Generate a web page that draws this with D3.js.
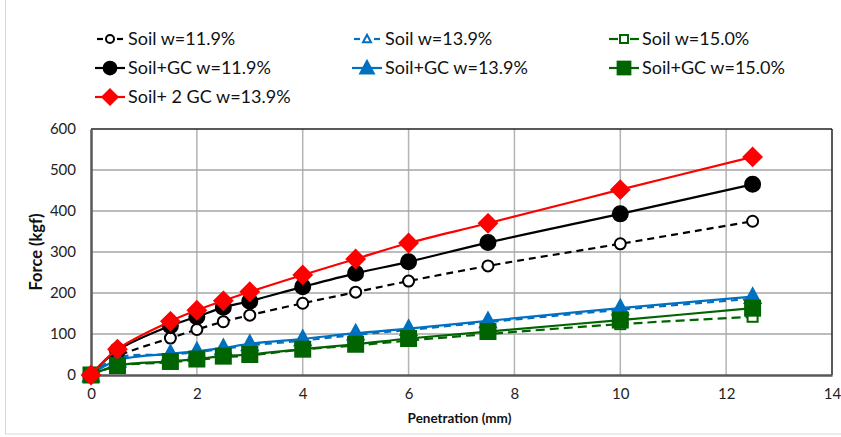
<!DOCTYPE html>
<html>
<head>
<meta charset="utf-8">
<script src="https://cdn.jsdelivr.net/npm/d3@7"></script>
<style>
  body { margin: 0; background: #fff; }
  text { font-family: Lato, "Open Sans", sans-serif; }
</style>
</head>
<body>
<div id="chart"></div>
<script>
// Penetration (mm) readings
const penetration = [0, 0.5, 1.5, 2, 2.5, 3, 4, 5, 6, 7.5, 10, 12.5];

// Force (kgf) per series
const soil119 = [0, 45, 90, 111, 130, 146, 175, 202, 229, 266, 320, 375];
const soil139 = [0, 42, 50, 56, 64, 72, 84, 98, 110, 129, 159, 186];
const soil150 = [0, 22, 31, 37, 43, 48, 62, 72, 84, 100, 124, 142];
const gc119 = [0, 60, 120, 142, 165, 180, 215, 248, 276, 323, 393, 465];
const gc139 = [0, 36, 52, 58, 66, 76, 88, 102, 113, 132, 163, 191];
const gc150 = [0, 23, 33, 39, 46, 50, 63, 75, 89, 106, 134, 163];
const gc2139 = [0, 63, 131, 158, 181, 203, 244, 283, 322, 370, 452, 532];

const seriesNames = ["Soil w=11.9%", "Soil w=13.9%", "Soil w=15.0%",
  "Soil+GC w=11.9%", "Soil+GC w=13.9%", "Soil+GC w=15.0%", "Soil+ 2 GC w=13.9%"];

const xTicks = [0, 2, 4, 6, 8, 10, 12, 14];
const yTicks = [0, 100, 200, 300, 400, 500, 600];

const series = [
  { name: seriesNames[0], values: soil119, color: "#000000", dash: "7,5", marker: "circle", fill: "#fff", size: 5.5 },
  { name: seriesNames[1], values: soil139, color: "#0070c0", dash: "7,5", marker: "triangle", fill: "#fff", size: 5 },
  { name: seriesNames[2], values: soil150, color: "#006400", dash: "9,5", marker: "square", fill: "#fff", size: 5 },
  { name: seriesNames[3], values: gc119, color: "#000000", dash: null, marker: "circle", fill: "#000000", size: 7.5 },
  { name: seriesNames[4], values: gc139, color: "#0070c0", dash: null, marker: "triangle", fill: "#0070c0", size: 8 },
  { name: seriesNames[5], values: gc150, color: "#006400", dash: null, marker: "square", fill: "#006400", size: 7.5 },
  { name: seriesNames[6], values: gc2139, color: "#ff0000", dash: null, marker: "diamond", fill: "#ff0000", size: 9 }
];

const W = 841, H = 437;
const margin = { top: 129, right: 9, bottom: 62, left: 91 };
const width = W - margin.left - margin.right;
const height = H - margin.top - margin.bottom;

const svg = d3.select("#chart").append("svg")
  .attr("width", W)
  .attr("height", H);

// outer chart frame
svg.append("rect")
  .attr("x", 5.5).attr("y", -1)
  .attr("width", W).attr("height", H - 2)
  .attr("fill", "none").attr("stroke", "#d9d9d9");

const g = svg.append("g")
  .attr("transform", `translate(${margin.left},${margin.top})`);

const x = d3.scaleLinear().domain([0, 14]).range([0, width]);
const y = d3.scaleLinear().domain([0, 600]).range([height, 0]);

// gridlines
g.append("g")
  .selectAll("line.gx")
  .data(xTicks.slice(1, -1))
  .enter().append("line")
  .attr("x1", d => x(d)).attr("x2", d => x(d))
  .attr("y1", 0).attr("y2", height)
  .attr("stroke", "#b3b3b3").attr("stroke-width", 1.5);

g.append("g")
  .selectAll("line.gy")
  .data(yTicks.slice(1, -1))
  .enter().append("line")
  .attr("x1", 0).attr("x2", width)
  .attr("y1", d => y(d)).attr("y2", d => y(d))
  .attr("stroke", "#a6a6a6").attr("stroke-width", 1.5);

// frame top/right
g.append("line").attr("x1", 0).attr("x2", width).attr("y1", 0).attr("y2", 0)
  .attr("stroke", "#222").attr("stroke-width", 1.5);
g.append("line").attr("x1", width).attr("x2", width).attr("y1", 0).attr("y2", height)
  .attr("stroke", "#222").attr("stroke-width", 1.5);

// axes
const xAxis = g.append("g")
  .attr("transform", `translate(0,${height})`)
  .call(d3.axisBottom(x).tickValues(xTicks).tickSize(0).tickPadding(13));
const yAxis = g.append("g")
  .call(d3.axisLeft(y).tickValues(yTicks).tickSize(0).tickPadding(15));

[xAxis, yAxis].forEach(a => {
  a.select(".domain").attr("stroke", "#595959").attr("stroke-width", 2.5);
  a.selectAll("text")
    .attr("font-family", "Lato, 'Open Sans', sans-serif")
    .attr("font-size", 15)
    .attr("fill", "#222");
});

// axis titles
svg.append("text")
  .attr("x", margin.left + x(7) - 2)
  .attr("y", 423)
  .attr("text-anchor", "middle")
  .attr("font-size", 13.5)
  .attr("font-weight", "bold")
  .attr("fill", "#111")
  .text("Penetration (mm)");

svg.append("text")
  .attr("transform", `translate(42,${margin.top + y(300)}) rotate(-90)`)
  .attr("text-anchor", "middle")
  .attr("font-size", 16.5)
  .attr("font-weight", "bold")
  .attr("fill", "#111")
  .text("Force (kgf)");

// marker helper
function drawMarker(sel, s, cx, cy) {
  const r = s.size;
  let m;
  if (s.marker === "circle") {
    m = sel.append("circle").attr("cx", cx).attr("cy", cy).attr("r", r);
  } else if (s.marker === "square") {
    m = sel.append("rect").attr("x", cx - r).attr("y", cy - r)
      .attr("width", 2 * r).attr("height", 2 * r);
  } else if (s.marker === "triangle") {
    m = sel.append("path")
      .attr("d", `M${cx},${cy - r * 1.05}L${cx + r},${cy + r * 0.8}L${cx - r},${cy + r * 0.8}Z`);
  } else {
    m = sel.append("path")
      .attr("d", `M${cx},${cy - r}L${cx + r},${cy}L${cx},${cy + r}L${cx - r},${cy}Z`);
  }
  m.attr("fill", s.fill).attr("stroke", s.color).attr("stroke-width", 2);
}

const line = d3.line()
  .x(d => x(d[0]))
  .y(d => y(d[1]))
  .curve(d3.curveCatmullRom.alpha(0.5));

series.forEach(s => {
  const pts = penetration.map((p, i) => [p, s.values[i]]);
  const grp = g.append("g");
  grp.append("path")
    .datum(pts)
    .attr("d", line)
    .attr("fill", "none")
    .attr("stroke", s.color)
    .attr("stroke-width", 2.2)
    .attr("stroke-dasharray", s.dash);
  pts.forEach(p => drawMarker(grp, s, x(p[0]), y(p[1])));
});

// legend
const legX = [95, 352, 609];
const legY = [39, 68, 97];
series.forEach((s, i) => {
  const col = i < 6 ? i % 3 : 0;
  const row = i < 6 ? Math.floor(i / 3) : 2;
  const lx = legX[col], ly = legY[row];
  const lg = svg.append("g");
  if (s.dash) {
    const seg = s.marker === "square" ? [[0, 9], [21, 30]] : [[2, 8], [22, 28]];
    seg.forEach(sg => lg.append("line")
      .attr("x1", lx + sg[0]).attr("x2", lx + sg[1])
      .attr("y1", ly).attr("y2", ly)
      .attr("stroke", s.color).attr("stroke-width", 2.2));
  } else {
    lg.append("line")
      .attr("x1", lx).attr("x2", lx + 30)
      .attr("y1", ly).attr("y2", ly)
      .attr("stroke", s.color).attr("stroke-width", 2.2);
  }
  drawMarker(lg, Object.assign({}, s, { size: s.dash ? 4 : s.size * 0.85 }), lx + 15, ly);
  lg.append("text")
    .attr("x", lx + 33).attr("y", ly + 6)
    .attr("font-size", 18)
    .attr("fill", "#111")
    .text(s.name);
});
</script>
</body>
</html>
